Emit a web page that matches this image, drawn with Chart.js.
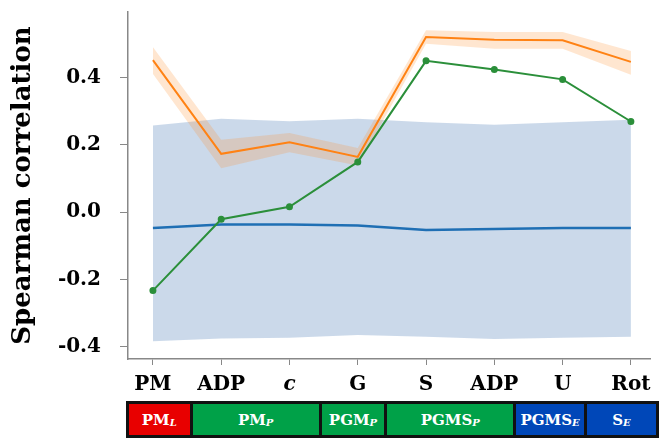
<!DOCTYPE html>
<html>
<head>
<meta charset="utf-8">
<script src="https://cdn.jsdelivr.net/npm/chart.js@4"></script>
<style>
  html, body { margin: 0; padding: 0; background: #fff; }
  #wrap { position: relative; width: 659px; height: 439px; }
  #bar {
    position: absolute; left: 126px; top: 401px; width: 533px; height: 37px;
    box-sizing: border-box; background: #111; padding: 3px; display: flex; gap: 3px;
  }
  #bar div {
    color: #fff; font: bold 15px "DejaVu Serif", serif; display: flex;
    align-items: center; justify-content: center; white-space: nowrap;
  }
  #bar sub { font-size: 10px; font-style: italic; position: relative; top: 3px; }
</style>
</head>
<body>
<div id="wrap">
  <canvas id="myChart" width="659" height="439"></canvas>
  <div id="bar"></div>
</div>
<script>
const categories = ['PM', 'ADP', 'c', 'G', 'S', 'ADP', 'U', 'Rot'];
const yTicks = [-0.4, -0.2, 0.0, 0.2, 0.4];

const blueMean  = [-0.047, -0.037, -0.037, -0.040, -0.053, -0.050, -0.047, -0.047];
const blueUpper = [0.257, 0.277, 0.270, 0.277, 0.267, 0.259, 0.267, 0.274];
const blueLower = [-0.383, -0.375, -0.373, -0.365, -0.370, -0.377, -0.373, -0.370];

const orangeMean  = [0.451, 0.173, 0.207, 0.164, 0.520, 0.512, 0.510, 0.446];
const orangeUpper = [0.490, 0.215, 0.235, 0.190, 0.540, 0.535, 0.535, 0.478];
const orangeLower = [0.410, 0.130, 0.178, 0.138, 0.500, 0.485, 0.485, 0.408];

const greenValues = [-0.233, -0.021, 0.016, 0.149, 0.449, 0.423, 0.394, 0.269];

const groups = [
  { main: 'PM', sub: 'L', color: '#e80000', size: 63 },
  { main: 'PM', sub: 'P', color: '#00a148', size: 131 },
  { main: 'PGM', sub: 'P', color: '#00a148', size: 65 },
  { main: 'PGMS', sub: 'P', color: '#00a148', size: 131 },
  { main: 'PGMS', sub: 'E', color: '#0047b8', size: 70 },
  { main: 'S', sub: 'E', color: '#0047b8', size: 72 }
];

const pts = arr => arr.map((v, i) => ({ x: i, y: v }));

const bar = document.getElementById('bar');
groups.forEach(g => {
  const d = document.createElement('div');
  d.style.background = g.color;
  d.style.flex = g.size + ' 1 0';
  d.innerHTML = g.main + '<sub>' + g.sub + '</sub>';
  bar.appendChild(d);
});

const ctx = document.getElementById('myChart').getContext('2d');
const serif = '"DejaVu Serif", serif';

new Chart(ctx, {
  type: 'line',
  data: {
    datasets: [
      { data: pts(greenValues), borderColor: '#2b8f3a', backgroundColor: '#2b8f3a',
        borderWidth: 2, pointRadius: 2.5, fill: false },
      { data: pts(orangeMean), borderColor: '#ff8214', borderWidth: 2, pointRadius: 0, fill: false },
      { data: pts(orangeUpper), borderWidth: 0, pointRadius: 0,
        backgroundColor: 'rgba(255,140,40,0.22)', fill: '+1' },
      { data: pts(orangeLower), borderWidth: 0, pointRadius: 0, fill: false },
      { data: pts(blueMean), borderColor: '#1f6fb4', borderWidth: 2.5, pointRadius: 0, fill: false },
      { data: pts(blueUpper), borderWidth: 0, pointRadius: 0,
        backgroundColor: 'rgba(70,120,180,0.28)', fill: '+1' },
      { data: pts(blueLower), borderWidth: 0, pointRadius: 0, fill: false }
    ]
  },
  options: {
    responsive: false,
    animation: false,
    layout: { padding: { top: 12, right: 9, left: 0, bottom: 0 } },
    plugins: { legend: { display: false }, tooltip: { enabled: false } },
    elements: { line: { tension: 0 } },
    scales: {
      x: {
        type: 'linear', min: -0.365, max: 7.28,
        afterBuildTicks: s => { s.ticks = categories.map((c, i) => ({ value: i })); },
        afterFit: s => { s.height = 80; s.paddingLeft = 0; s.paddingRight = 0; },
        grid: { drawOnChartArea: false, tickLength: 6, color: '#888' },
        border: { color: '#888', width: 1.5 },
        ticks: {
          color: '#000', padding: 8,
          callback: v => categories[v],
          font: c => ({ family: serif, size: 20, weight: 'bold',
            style: c.index === 2 ? 'italic' : 'normal' })
        }
      },
      y: {
        min: -0.436, max: 0.594,
        afterBuildTicks: s => { s.ticks = yTicks.map(v => ({ value: v })); },
        afterFit: s => { s.width = 128; s.paddingTop = 0; s.paddingBottom = 0; },
        grid: { drawOnChartArea: false, tickLength: 8, color: '#888' },
        border: { color: '#888', width: 1.5 },
        ticks: {
          color: '#000', padding: 19,
          callback: v => v.toFixed(1),
          font: { family: serif, size: 20, weight: 'bold' }
        },
        title: {
          display: true, text: 'Spearman correlation', color: '#000',
          padding: { top: 8, bottom: 0 },
          font: { family: serif, size: 26, weight: 'bold' }
        }
      }
    }
  }
});
</script>
</body>
</html>
